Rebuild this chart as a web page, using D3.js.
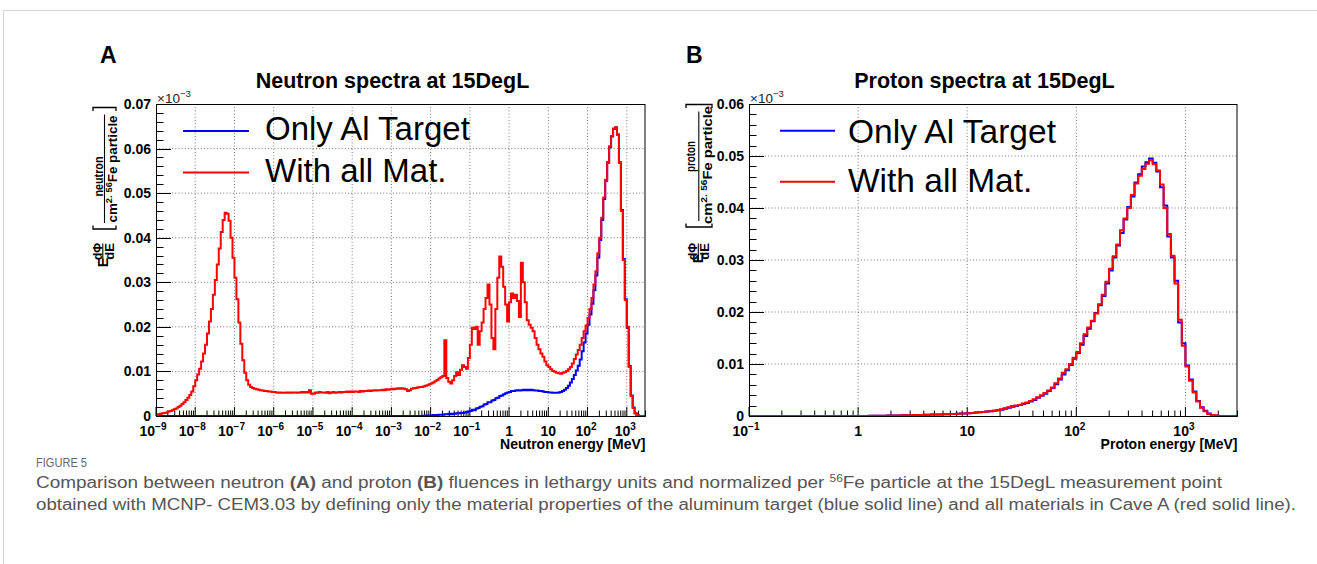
<!DOCTYPE html>
<html>
<head>
<meta charset="utf-8">
<script src="https://cdn.jsdelivr.net/npm/d3@7"></script>
<style>
  body { margin: 0; background: #fff; }
  svg { display: block; }
  text { font-family: "Liberation Sans", Arial, Helvetica, sans-serif; }
</style>
</head>
<body>
<svg id="fig" width="1317" height="564"></svg>
<script>
// ---------- data ----------
// Neutron spectra: 20 logarithmic bins per decade, first bin edge at 1e-9 MeV
const neutronBinsPerDecade = 20;
const neutronFirstExp = -9;
// E dPhi/dE (x1e-3 per cm^2 per 56Fe particle), all materials in the cave
const neutronAllMat = [
  0.0003, 0.0004, 0.0005, 0.0006, 0.0007, 0.0008, 0.0010, 0.0011, 0.0013, 0.0015,
  0.0017, 0.0020, 0.0023, 0.0027, 0.0031, 0.0036, 0.0041, 0.0047, 0.0055, 0.0067,
  0.0080, 0.0093, 0.0106, 0.0122, 0.0140, 0.0160, 0.0185, 0.0212, 0.0240, 0.0272,
  0.0305, 0.0340, 0.0376, 0.0413, 0.0440, 0.0456, 0.0454, 0.0438, 0.0400, 0.0355,
  0.0310, 0.0262, 0.0210, 0.0162, 0.0125, 0.0097, 0.0080, 0.0070, 0.0065, 0.0063,
  0.0061, 0.0060, 0.0059, 0.0058, 0.0057, 0.0056, 0.0056, 0.0055, 0.0055, 0.0054,
  0.0054, 0.0053, 0.0052, 0.0053, 0.0052, 0.0052, 0.0053, 0.0052, 0.0053, 0.0052,
  0.0053, 0.0053, 0.0052, 0.0053, 0.0054, 0.0053, 0.0054, 0.0053, 0.0058, 0.0050,
  0.0050, 0.0053, 0.0052, 0.0054, 0.0053, 0.0053, 0.0052, 0.0054, 0.0051, 0.0053,
  0.0054, 0.0052, 0.0053, 0.0054, 0.0053, 0.0054, 0.0054, 0.0055, 0.0054, 0.0055,
  0.0054, 0.0055, 0.0055, 0.0054, 0.0056, 0.0055, 0.0056, 0.0056, 0.0057, 0.0056,
  0.0057, 0.0058, 0.0057, 0.0058, 0.0058, 0.0059, 0.0058, 0.0060, 0.0059, 0.0060,
  0.0061, 0.0060, 0.0061, 0.0062, 0.0061, 0.0062, 0.0061, 0.0060, 0.0056, 0.0058,
  0.0061, 0.0062, 0.0063, 0.0064, 0.0065, 0.0065, 0.0066, 0.0068, 0.0069, 0.0071,
  0.0073, 0.0075, 0.0078, 0.0081, 0.0084, 0.0087, 0.0090, 0.0170, 0.0085, 0.0077,
  0.0073, 0.0080, 0.0090, 0.0098, 0.0092, 0.0104, 0.0114, 0.0110, 0.0106, 0.0130,
  0.0160, 0.0198, 0.0195, 0.0200, 0.0160, 0.0190, 0.0210, 0.0240, 0.0265, 0.0295,
  0.0250, 0.0175, 0.0150, 0.0240, 0.0310, 0.0358, 0.0335, 0.0290, 0.0250, 0.0212,
  0.0255, 0.0275, 0.0265, 0.0272, 0.0258, 0.0222, 0.0344, 0.0300, 0.0255, 0.0215,
  0.0205, 0.0198, 0.0190, 0.0175, 0.0160, 0.0150, 0.0140, 0.0133, 0.0122, 0.0114,
  0.0110, 0.0105, 0.0101, 0.0099, 0.0097, 0.0096, 0.0095, 0.0097, 0.0098, 0.0101,
  0.0105, 0.0110, 0.0118, 0.0128, 0.0138, 0.0148, 0.0160, 0.0175, 0.0190, 0.0203,
  0.0220, 0.0240, 0.0265, 0.0295, 0.0325, 0.0365, 0.0400, 0.0445, 0.0490, 0.0530,
  0.0570, 0.0605, 0.0628, 0.0645, 0.0648, 0.0632, 0.0570, 0.0460, 0.0350, 0.0260,
  0.0200, 0.0110, 0.0045, 0.0018, 0.0006, 0.0002, 0, 0, 0, 0
];
// Only the aluminium target defined: zero below bin 136
const neutronAlStartBin = 136;
const neutronAlTarget = [
  0.00005, 0.0001, 0.0001, 0.0001,
  0.0001, 0.0002, 0.0002, 0.0002, 0.0003, 0.0003, 0.0003, 0.0004, 0.0004, 0.0005,
  0.0004, 0.0005, 0.0005, 0.0006, 0.0006, 0.0007, 0.0007, 0.0008, 0.0009, 0.0010,
  0.0011, 0.0014, 0.0013, 0.0017, 0.0018, 0.0021, 0.0022, 0.0026, 0.0027, 0.0031,
  0.0031, 0.0035, 0.0036, 0.0040, 0.0041, 0.0045, 0.0046, 0.0049, 0.0051, 0.0053,
  0.0054, 0.0056, 0.0056, 0.0057, 0.0058, 0.0057, 0.0058, 0.0059, 0.0058, 0.0059,
  0.0058, 0.0059, 0.0058, 0.0057, 0.0057, 0.0056, 0.0056, 0.0055, 0.0054, 0.0054,
  0.0053, 0.0053, 0.0052, 0.0052, 0.0052, 0.0053, 0.0054, 0.0056, 0.0059, 0.0063,
  0.0068, 0.0075, 0.0083, 0.0092, 0.0102, 0.0113, 0.0127, 0.0145, 0.0165, 0.0185,
  0.0205, 0.0228, 0.0252, 0.0282, 0.0315, 0.0355, 0.0395, 0.0440, 0.0487, 0.0528,
  0.0568, 0.0603, 0.0627, 0.0644, 0.0647, 0.0631, 0.0568, 0.0462, 0.0352, 0.0262,
  0.0198, 0.0112, 0.0046, 0.0019, 0.0006, 0.0002, 0, 0, 0, 0
];

// Proton spectra: 30 logarithmic bins per decade, first bin edge at 1 MeV
const protonBinsPerDecade = 30;
const protonFirstExp = 0;
const protonAllMat = [
  0, 0, 0.00002, 0.00003, 0.00004, 0.00005, 0.00006, 0.00007, 0.00008, 0.0001,
  0.00011, 0.00012, 0.00013, 0.00015, 0.00016, 0.00018, 0.0002, 0.00021, 0.00023, 0.00025,
  0.00027, 0.00029, 0.00031, 0.00033, 0.00035, 0.00037, 0.0004, 0.00043, 0.00046, 0.0005,
  0.00055, 0.0006, 0.00065, 0.0007, 0.00078, 0.00085, 0.00093, 0.001, 0.0011, 0.0013,
  0.0015, 0.0017, 0.0019, 0.0020, 0.0021, 0.0024, 0.0026, 0.0029, 0.0032, 0.0036,
  0.0040, 0.0044, 0.0049, 0.0055, 0.0063, 0.0072, 0.0083, 0.0090, 0.0100, 0.0112,
  0.0123, 0.0140, 0.0157, 0.0170, 0.0183, 0.0197, 0.0215, 0.0233, 0.0258, 0.0283,
  0.0307, 0.0330, 0.0357, 0.0380, 0.0400, 0.0425, 0.0447, 0.0462, 0.0475, 0.0485,
  0.0492, 0.0484, 0.0472, 0.0445, 0.0400, 0.0350, 0.0308, 0.0255, 0.0185, 0.0135,
  0.0095, 0.0068, 0.0045, 0.0028, 0.0016, 0.0009, 0.0004, 0.0002, 0.0001, 0,
  0, 0, 0, 0, 0
];
const protonAlTarget = [
  0, 0, 0.00002, 0.00003, 0.00004, 0.00005, 0.00006, 0.00007, 0.00008, 0.0001,
  0.00011, 0.00012, 0.00013, 0.00015, 0.00016, 0.00018, 0.0002, 0.00021, 0.00023, 0.00025,
  0.00027, 0.00029, 0.00031, 0.00033, 0.00035, 0.00037, 0.0004, 0.00043, 0.00046, 0.0005,
  0.00055, 0.0006, 0.00066, 0.0007, 0.00077, 0.00086, 0.00092, 0.001, 0.0011, 0.0012,
  0.0014, 0.0016, 0.0018, 0.0019, 0.0021, 0.0023, 0.0025, 0.0028, 0.0031, 0.0035,
  0.0039, 0.0043, 0.0048, 0.0054, 0.0061, 0.0070, 0.0080, 0.0088, 0.0098, 0.0110,
  0.0121, 0.0137, 0.0154, 0.0168, 0.0182, 0.0198, 0.0213, 0.0231, 0.0255, 0.0280,
  0.0305, 0.0328, 0.0352, 0.0378, 0.0402, 0.0422, 0.0449, 0.0465, 0.0480, 0.0488,
  0.0495, 0.0487, 0.0470, 0.0440, 0.0405, 0.0345, 0.0305, 0.0260, 0.0180, 0.0140,
  0.0097, 0.0070, 0.0047, 0.0029, 0.0017, 0.0010, 0.0005, 0.0002, 0.0001, 0,
  0, 0, 0, 0, 0
];

const neutronYTicks = [0, 0.01, 0.02, 0.03, 0.04, 0.05, 0.06, 0.07];
const protonYTicks = [0, 0.01, 0.02, 0.03, 0.04, 0.05, 0.06];
const neutronXTickExps = [-9, -8, -7, -6, -5, -4, -3, -2, -1, 0, 1, 2, 3];
const protonXTickExps = [-1, 0, 1, 2, 3];
const seriesNames = ["Only Al Target", "With all Mat."];
const seriesColors = ["#0000ff", "#ff0000"];

// ---------- drawing ----------
const svg = d3.select("#fig");
svg.append("rect").attr("width", 1317).attr("height", 564).attr("fill", "#fff");
// outer figure rule
svg.append("path").attr("d", "M3.5,564 V10.5 H1317").attr("fill", "none")
  .attr("stroke", "#d4d4d4").attr("stroke-width", 1);

function rotText(g, x, y, size, weight) {
  return g.append("text")
    .attr("transform", `translate(${x},${y}) rotate(-90)`)
    .attr("text-anchor", "middle")
    .attr("font-size", size)
    .attr("font-weight", weight);
}

function histPoints(firstExp, perDecade, startBin, vals, leadX) {
  const pts = vals.map((v, i) => [Math.pow(10, firstExp + (startBin + i) / perDecade), v]);
  pts.push([Math.pow(10, firstExp + (startBin + vals.length) / perDecade), vals[vals.length - 1]]);
  if (leadX !== null) pts.unshift([leadX, 0]);
  return pts;
}

function panel(cfg) {
  const g = svg.append("g");
  const x = d3.scaleLog().domain(cfg.xDomain).range([cfg.left, cfg.right]);
  const y = d3.scaleLinear().domain(cfg.yDomain).range([cfg.bottom, cfg.top]);
  const id = "clip" + cfg.key;

  svg.append("defs").append("clipPath").attr("id", id)
    .append("rect").attr("x", cfg.left).attr("y", cfg.top - 2)
    .attr("width", cfg.right - cfg.left).attr("height", cfg.bottom - cfg.top + 4);

  // grid
  const grid = g.append("g").attr("stroke", "#555").attr("stroke-width", 0.8)
    .attr("stroke-dasharray", "1,2.2");
  cfg.xTickExps.forEach(e => {
    const xv = x(Math.pow(10, e));
    if (xv > cfg.left + 1 && xv < cfg.right - 1)
      grid.append("line").attr("x1", xv).attr("x2", xv).attr("y1", cfg.top).attr("y2", cfg.bottom);
  });
  cfg.yTicks.forEach(t => {
    const yv = y(t);
    if (yv < cfg.bottom - 1 && yv > cfg.top + 1)
      grid.append("line").attr("x1", cfg.left).attr("x2", cfg.right).attr("y1", yv).attr("y2", yv);
  });

  // ticks
  const ticks = g.append("g").attr("stroke", "#000").attr("stroke-width", 1);
  const yMax = cfg.yDomain[1];
  d3.range(0, Math.round(yMax / 0.002) + 1).forEach(k => {
    const yv = Math.round(y(k * 0.002)) + 0.5;
    const len = (k % 5 === 0) ? 15 : 7.5;
    ticks.append("line").attr("x1", cfg.left).attr("x2", cfg.left + len).attr("y1", yv).attr("y2", yv);
  });
  const e0 = Math.floor(Math.log10(cfg.xDomain[0]));
  const e1 = Math.ceil(Math.log10(cfg.xDomain[1]));
  for (let e = e0; e <= e1; e++) {
    for (let m = 1; m <= 9; m++) {
      const v = m * Math.pow(10, e);
      if (v < cfg.xDomain[0] * 0.999 || v > cfg.xDomain[1]) continue;
      const xv = x(v);
      const len = m === 1 ? 9 : 5.5;
      ticks.append("line").attr("x1", xv).attr("x2", xv).attr("y1", cfg.bottom).attr("y2", cfg.bottom - len);
    }
  }

  // histograms
  const line = d3.line().x(d => x(d[0])).y(d => y(d[1])).curve(d3.curveStepAfter);
  const data = g.append("g").attr("clip-path", `url(#${id})`).attr("fill", "none")
    .attr("stroke-width", 2).attr("stroke-linejoin", "miter");
  data.append("path").attr("d", line(cfg.alPoints)).attr("stroke", seriesColors[0]);
  data.append("path").attr("d", line(cfg.allPoints)).attr("stroke", seriesColors[1]);

  // frame
  g.append("rect").attr("x", cfg.left + 0.5).attr("y", cfg.top + 0.5)
    .attr("width", cfg.right - cfg.left - 1).attr("height", cfg.bottom - cfg.top)
    .attr("fill", "none").attr("stroke", "#000").attr("stroke-width", 1);

  // y tick labels
  cfg.yTicks.forEach(t => {
    g.append("text").attr("x", cfg.left - 5).attr("y", y(t) + 5)
      .attr("text-anchor", "end").attr("font-size", 14).attr("font-weight", "bold")
      .text(t === 0 ? "0" : t.toFixed(2));
  });
  // exponent marker
  const mult = g.append("text").attr("x", cfg.left + 1).attr("y", cfg.top - 1)
    .attr("font-size", 13.5).attr("fill", "#222");
  mult.append("tspan").text("\u00d710");
  mult.append("tspan").attr("font-size", 9.5).attr("dy", -6).text("\u22123");

  // x tick labels
  cfg.xTickExps.forEach(e => {
    const t = g.append("text").attr("x", x(Math.pow(10, e)) + (e < 0 ? -3 : (e > 1 ? -1.5 : 0)))
      .attr("y", 435.5).attr("text-anchor", "middle")
      .attr("font-size", 14).attr("font-weight", "bold");
    if (e === 0) t.text("1");
    else if (e === 1) t.text("10");
    else {
      t.append("tspan").text("10");
      t.append("tspan").attr("font-size", 10).attr("dy", -6).text(e < 0 ? "\u2212" + (-e) : String(e));
    }
  });

  // axis title
  g.append("text").attr("x", cfg.right).attr("y", 449).attr("text-anchor", "end")
    .attr("font-size", 14).attr("font-weight", "bold").text(cfg.xTitle);

  // plot title and panel letter
  g.append("text").attr("x", cfg.titleX).attr("y", 88).attr("text-anchor", "middle")
    .attr("font-size", 21.5).attr("font-weight", "bold").text(cfg.title);
  g.append("text").attr("x", cfg.letterX).attr("y", 63)
    .attr("font-size", 23).attr("font-weight", "bold").text(cfg.letter);

  // legend
  seriesNames.forEach((name, i) => {
    const L = cfg.legend;
    g.append("line").attr("x1", L.x1).attr("x2", L.x2)
      .attr("y1", L.lineY[i]).attr("y2", L.lineY[i])
      .attr("stroke", seriesColors[i]).attr("stroke-width", 2);
    g.append("text").attr("x", L.textX).attr("y", L.textY[i])
      .attr("font-size", L.size).text(name);
  });

  // y axis title: E dPhi/dE [ particle / (cm^2 . 56Fe particle) ]
  const T = cfg.yTitle;
  rotText(g, T.eX, T.eY, 14.5, "bold").text("E");
  rotText(g, T.barX - 1.3, T.dY, 12, "bold").text("d\u03a6");
  g.append("line").attr("x1", T.barX).attr("x2", T.barX).attr("y1", T.dY - 8).attr("y2", T.dY + 8)
    .attr("stroke", "#000").attr("stroke-width", 1.1);
  rotText(g, T.barX + 11, T.dY, 13, "bold").text("dE");
  g.append("path").attr("d", `M${T.bx0},${T.openY - 3.5} V${T.openY} H${T.bx1} V${T.openY - 3.5}`)
    .attr("fill", "none").attr("stroke", "#000").attr("stroke-width", 1.3);
  g.append("path").attr("d", `M${T.bx0},${T.closeY + 3.5} V${T.closeY} H${T.bx1} V${T.closeY + 3.5}`)
    .attr("fill", "none").attr("stroke", "#000").attr("stroke-width", 1.3);
  rotText(g, T.numX, T.numY, 12.5, "bold")
    .attr("textLength", T.numLen).attr("lengthAdjust", "spacingAndGlyphs").text(cfg.particle);
  g.append("line").attr("x1", T.bar2X).attr("x2", T.bar2X)
    .attr("y1", T.closeY + 7).attr("y2", T.openY - 6)
    .attr("stroke", "#000").attr("stroke-width", 1.1);
  const den = rotText(g, T.denX, T.denY, 13, "bold")
    .attr("textLength", T.denLen).attr("lengthAdjust", "spacingAndGlyphs");
  den.append("tspan").text("cm");
  den.append("tspan").attr("font-size", 9).attr("dy", -5).text("2.");
  den.append("tspan").attr("font-size", 9).attr("dx", 3).text("56");
  den.append("tspan").attr("dy", 5).text("Fe particle");
}

panel({
  key: "A", left: 156, right: 645.5, top: 104, bottom: 416,
  xDomain: [1e-9, 3000], yDomain: [0, 0.07],
  yTicks: neutronYTicks, xTickExps: neutronXTickExps,
  alPoints: histPoints(neutronFirstExp, neutronBinsPerDecade, neutronAlStartBin, neutronAlTarget, 1e-9),
  allPoints: histPoints(neutronFirstExp, neutronBinsPerDecade, 0, neutronAllMat, null),
  xTitle: "Neutron energy [MeV]", title: "Neutron spectra at 15DegL", titleX: 392.5,
  letter: "A", letterX: 100, particle: "neutron",
  legend: { x1: 183, x2: 249, lineY: [131, 172.5], textX: 265, textY: [139.5, 181.5], size: 33 },
  yTitle: { eX: 107.5, eY: 262.5, barX: 102.8, dY: 251.5, bx0: 93, bx1: 116, openY: 229, closeY: 107.5,
            numX: 103, numY: 176.5, numLen: 40, bar2X: 104.5, denX: 116.5, denY: 169, denLen: 107 }
});

panel({
  key: "B", left: 749, right: 1237.5, top: 104, bottom: 416,
  xDomain: [0.1, 3000], yDomain: [0, 0.06],
  yTicks: protonYTicks, xTickExps: protonXTickExps,
  alPoints: histPoints(protonFirstExp, protonBinsPerDecade, 0, protonAlTarget, 0.1),
  allPoints: histPoints(protonFirstExp, protonBinsPerDecade, 0, protonAllMat, 0.1),
  xTitle: "Proton energy [MeV]", title: "Proton spectra at 15DegL", titleX: 984.5,
  letter: "B", letterX: 686, particle: "proton",
  legend: { x1: 780, x2: 835, lineY: [130.7, 181.7], textX: 848, textY: [142.5, 192], size: 33.5 },
  yTitle: { eX: 703, eY: 258.5, barX: 698.3, dY: 251.5, bx0: 686, bx1: 712, openY: 227, closeY: 104.5,
            numX: 695, numY: 156.5, numLen: 31, bar2X: 698.8, denX: 712, denY: 165, denLen: 118 }
});

// ---------- caption ----------
const cap = svg.append("g").attr("fill", "#555");
cap.append("text").attr("x", 36).attr("y", 466.5).attr("font-size", 12.5)
  .attr("font-family", "'Open Sans', sans-serif").attr("fill", "#666")
  .attr("textLength", 51).attr("lengthAdjust", "spacingAndGlyphs").text("FIGURE 5");
const l1 = cap.append("text").attr("x", 36).attr("y", 488).attr("font-size", 16)
  .attr("font-family", "'Open Sans', sans-serif")
  .attr("textLength", 1186).attr("lengthAdjust", "spacingAndGlyphs");
l1.append("tspan").text("Comparison between neutron ");
l1.append("tspan").attr("font-weight", "bold").text("(A)");
l1.append("tspan").text(" and proton ");
l1.append("tspan").attr("font-weight", "bold").text("(B)");
l1.append("tspan").text(" fluences in lethargy units and normalized per ");
l1.append("tspan").attr("font-size", 10).attr("dy", -6).text("56");
l1.append("tspan").attr("dy", 6).text("Fe particle at the 15DegL measurement point");
cap.append("text").attr("x", 36).attr("y", 509.5).attr("font-size", 16)
  .attr("font-family", "'Open Sans', sans-serif")
  .attr("textLength", 1260).attr("lengthAdjust", "spacingAndGlyphs")
  .text("obtained with MCNP- CEM3.03 by defining only the material properties of the aluminum target (blue solid line) and all materials in Cave A (red solid line).");
</script>
</body>
</html>
